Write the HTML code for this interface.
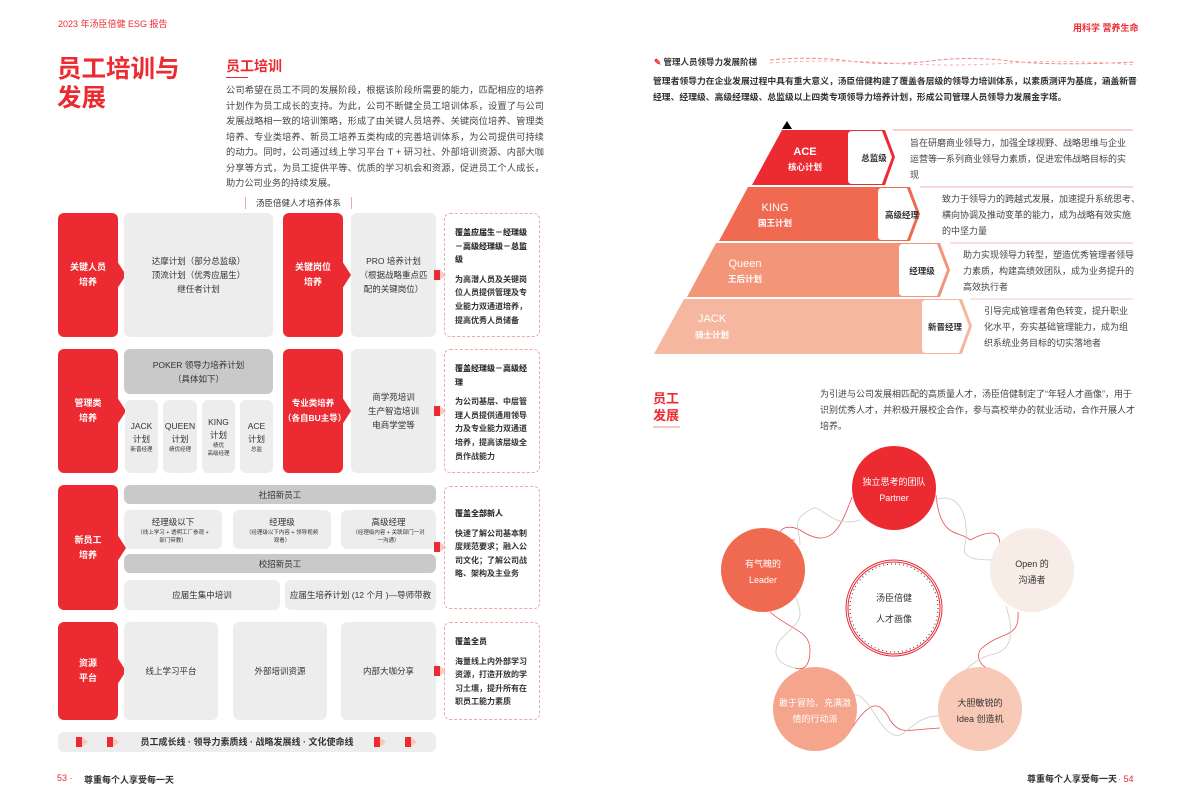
<!DOCTYPE html>
<html><head><meta charset="utf-8">
<style>
*{margin:0;padding:0;box-sizing:border-box}
body{width:1192px;height:809px;background:#fff;position:relative;overflow:hidden;font-family:"Liberation Sans","Noto Sans CJK SC",sans-serif;color:#333}
.a{position:absolute}
.red{position:absolute;background:#ec2a31;border-radius:6px;color:#fff;font-size:9px;font-weight:bold;display:flex;align-items:center;justify-content:center;text-align:center;line-height:15px}
.red:after{content:"";position:absolute;right:-8px;top:50%;margin-top:-14px;border-left:9px solid #ec2a31;border-top:14px solid transparent;border-bottom:14px solid transparent}
.g{position:absolute;background:#ededed;border-radius:6px;font-size:8.5px;display:flex;flex-direction:column;align-items:center;justify-content:center;text-align:center;line-height:14px;color:#333}
.gd{position:absolute;background:#c9c9c9;border-radius:6px;font-size:8.5px;display:flex;flex-direction:column;align-items:center;justify-content:center;text-align:center;line-height:14px;color:#333}
.d{position:absolute;border:1px dashed #f2a6a8;border-radius:6px;font-size:8px;font-weight:bold;line-height:13.6px;color:#333;padding:12px 8px 0 10px}
.d b{display:block;margin-bottom:6px}
.mk{position:absolute;width:6px;height:10px;background:#ec2a31}
.mk:after{content:"";position:absolute;left:6px;top:0;border-left:6px solid #f8c9c0;border-top:5px solid transparent;border-bottom:5px solid transparent}
.s{font-size:5.5px;line-height:8px;display:block}
.t{font-size:9.2px;line-height:15.5px;color:#444}
</style></head><body>
<div class="a" style="left:58px;top:17px;font-size:9px;color:#ec2a31">2023 年汤臣倍健 ESG 报告</div>
<div class="a" style="left:1073px;top:21px;font-size:9px;color:#ec2a31;font-weight:bold">用科学 营养生命</div>
<div class="a" style="left:57px;top:55px;font-size:24.5px;line-height:29px;color:#ec2a31;font-weight:bold">员工培训与<br>发展</div>
<div class="a" style="left:226px;top:56px;font-size:14px;color:#ec2a31;font-weight:bold">员工培训</div>
<div class="a" style="left:226px;top:77px;width:22px;height:1px;background:#ec2a31"></div>
<div class="a t" style="left:226px;top:83px;width:318px;text-align:justify">公司希望在员工不同的发展阶段，根据该阶段所需要的能力，匹配相应的培养计划作为员工成长的支持。为此，公司不断健全员工培训体系，设置了与公司发展战略相一致的培训策略，形成了由关键人员培养、关键岗位培养、管理类培养、专业类培养、新员工培养五类构成的完善培训体系，为公司提供可持续的动力。同时，公司通过线上学习平台 T + 研习社、外部培训资源、内部大咖分享等方式，为员工提供平等、优质的学习机会和资源，促进员工个人成长，助力公司业务的持续发展。</div>
<div class="a" style="left:245px;top:197px;height:12px;border-left:1px solid #f2a6a8;border-right:1px solid #f2a6a8;width:107px;font-size:8.5px;text-align:center;line-height:12px">汤臣倍健人才培养体系</div>

<div class="red" style="left:58px;top:213px;width:60px;height:124px">关键人员<br>培养</div>
<div class="g" style="left:124px;top:213px;width:149px;height:124px">达摩计划（部分总监级）<br>顶流计划（优秀应届生）<br>继任者计划</div>
<div class="red" style="left:283px;top:213px;width:60px;height:124px">关键岗位<br>培养</div>
<div class="g" style="left:351px;top:213px;width:85px;height:124px">PRO 培养计划<br>（根据战略重点匹<br>配的关键岗位）</div>
<div class="mk" style="left:434px;top:270px"></div>
<div class="d" style="left:444px;top:213px;width:96px;height:124px"><b>覆盖应届生－经理级－高级经理级－总监级</b>为高潜人员及关键岗位人员提供管理及专业能力双通道培养，提高优秀人员储备</div>

<div class="red" style="left:58px;top:349px;width:60px;height:124px">管理类<br>培养</div>
<div class="gd" style="left:124px;top:349px;width:149px;height:45px">POKER 领导力培养计划<br>（具体如下）</div>
<div class="g" style="left:125px;top:400px;width:33px;height:73px;line-height:13px">JACK<br>计划<span class="s">新晋经理</span></div>
<div class="g" style="left:163px;top:400px;width:34px;height:73px;line-height:13px">QUEEN<br>计划<span class="s">绩优经理</span></div>
<div class="g" style="left:202px;top:400px;width:33px;height:73px;line-height:13px">KING<br>计划<span class="s">绩优<br>高级经理</span></div>
<div class="g" style="left:240px;top:400px;width:33px;height:73px;line-height:13px">ACE<br>计划<span class="s">总监</span></div>
<div class="red" style="left:283px;top:349px;width:60px;height:124px;font-size:8.5px">专业类培养<br>（各自BU主导）</div>
<div class="g" style="left:351px;top:349px;width:85px;height:124px">商学苑培训<br>生产智造培训<br>电商学堂等</div>
<div class="mk" style="left:434px;top:406px"></div>
<div class="d" style="left:444px;top:349px;width:96px;height:124px"><b>覆盖经理级－高级经理</b>为公司基层、中层管理人员提供通用领导力及专业能力双通道培养，提高该层级全员作战能力</div>

<div class="red" style="left:58px;top:485px;width:60px;height:125px">新员工<br>培养</div>
<div class="gd" style="left:124px;top:485px;width:312px;height:19px">社招新员工</div>
<div class="g" style="left:124px;top:510px;width:98px;height:39px">经理级以下<span class="s">（线上学习 + 透明工厂参观 +<br>部门带教）</span></div>
<div class="g" style="left:233px;top:510px;width:98px;height:39px">经理级<span class="s">（经理级以下内容 + 领导视频<br>观看）</span></div>
<div class="g" style="left:341px;top:510px;width:95px;height:39px">高级经理<span class="s">（经理级内容 + 关联部门一对<br>一沟通）</span></div>
<div class="gd" style="left:124px;top:554px;width:312px;height:19px">校招新员工</div>
<div class="g" style="left:124px;top:580px;width:156px;height:30px">应届生集中培训</div>
<div class="g" style="left:285px;top:580px;width:151px;height:30px">应届生培养计划 (12 个月 )—导师带教</div>
<div class="mk" style="left:434px;top:542px"></div>
<div class="d" style="left:444px;top:486px;width:96px;height:123px;padding-top:20px"><b>覆盖全部新人</b>快速了解公司基本制度规范要求；融入公司文化；了解公司战略、架构及主业务</div>

<div class="red" style="left:58px;top:622px;width:60px;height:98px">资源<br>平台</div>
<div class="g" style="left:124px;top:622px;width:94px;height:98px">线上学习平台</div>
<div class="g" style="left:233px;top:622px;width:94px;height:98px">外部培训资源</div>
<div class="g" style="left:341px;top:622px;width:95px;height:98px">内部大咖分享</div>
<div class="mk" style="left:434px;top:666px"></div>
<div class="d" style="left:444px;top:622px;width:96px;height:98px"><b>覆盖全员</b>海量线上内外部学习资源，打造开放的学习土壤，提升所有在职员工能力素质</div>
<div class="g" style="left:58px;top:732px;width:378px;height:20px;font-weight:bold;font-size:9px">员工成长线 · 领导力素质线 · 战略发展线 · 文化使命线</div>
<div class="mk" style="left:76px;top:737px"></div><div class="mk" style="left:107px;top:737px"></div>
<div class="mk" style="left:374px;top:737px"></div><div class="mk" style="left:405px;top:737px"></div>

<div class="a" style="left:57px;top:773px;font-size:9px;color:#ec2a31">53 ·</div>
<div class="a" style="left:84px;top:773px;font-size:9px;font-weight:bold;color:#333">尊重每个人享受每一天</div>

<div class="a" style="left:654px;top:56px;font-size:8.5px;font-weight:bold;color:#333"><span style="color:#ec2a31">✎</span> 管理人员领导力发展阶梯</div>
<svg class="a" style="left:770px;top:56px" width="365" height="10"><path d="M0 4 Q40 0 80 5 T160 5 T240 5 T365 6" stroke="#f28a8c" stroke-dasharray="4 2" fill="none"/><path d="M0 7 Q60 3 120 7 T240 7 T365 9" stroke="#f5b0b2" stroke-dasharray="3 3" fill="none"/></svg>
<div class="a" style="left:653px;top:73px;width:484px;font-size:8.8px;font-weight:bold;line-height:16px;color:#333">管理者领导力在企业发展过程中具有重大意义，汤臣倍健构建了覆盖各层级的领导力培训体系，以素质测评为基底，涵盖新晋经理、经理级、高级经理级、总监级以上四类专项领导力培养计划，形成公司管理人员领导力发展金字塔。</div>
<svg class="a" style="left:640px;top:115px" width="500" height="245">
<polygon points="787,6 792,14 782,14" transform="translate(-640,0)" fill="#000"/>
<g transform="translate(-640,-115)" font-family="Liberation Sans, Noto Sans CJK SC, sans-serif">
<line x1="893" y1="130" x2="1133" y2="130" stroke="#f5a0a0"/>
<line x1="920" y1="187" x2="1133" y2="187" stroke="#f5b0b0"/>
<line x1="950" y1="243" x2="1133" y2="243" stroke="#f5c0b8"/>
<line x1="970" y1="299" x2="1133" y2="299" stroke="#f5c8c0"/>
<path d="M752 185 L782 130 L885 130 L895 157 L885 185 Z" fill="#ec2a31"/>
<path d="M852 131 H882 L892 157 L882 184 H852 Q848 184 848 180 V135 Q848 131 852 131Z" fill="#fff"/>
<path d="M719 241 L748 187 L910 187 L920 214 L910 241 Z" fill="#ef6a50"/>
<path d="M882 188 H907 L917 214 L907 240 H882 Q878 240 878 236 V192 Q878 188 882 188Z" fill="#fff"/>
<path d="M687 297 L716 243 L940 243 L950 270 L940 297 Z" fill="#f39578"/>
<path d="M903 244 H937 L947 270 L937 296 H903 Q899 296 899 292 V248 Q899 244 903 244Z" fill="#fff"/>
<path d="M654 354 L684 299 L962 299 L972 326 L962 354 Z" fill="#f5b7a0"/>
<path d="M926 300 H959 L969 326 L959 353 H926 Q922 353 922 349 V304 Q922 300 926 300Z" fill="#fff"/>
<g fill="#fff" font-weight="bold" text-anchor="middle">
<text x="805" y="155" font-size="11">ACE</text><text x="805" y="170" font-size="8.5">核心计划</text>
<text x="775" y="211" font-size="11" font-weight="normal">KING</text><text x="775" y="226" font-size="8.5">国王计划</text>
<text x="745" y="267" font-size="11" font-weight="normal">Queen</text><text x="745" y="282" font-size="8.5">王后计划</text>
<text x="712" y="322" font-size="11" font-weight="normal">JACK</text><text x="712" y="338" font-size="8.5">骑士计划</text>
</g>
<g fill="#333" font-weight="bold" font-size="8.5" text-anchor="middle">
<text x="874" y="161">总监级</text><text x="902" y="218">高级经理</text><text x="922" y="274">经理级</text><text x="945" y="330">新晋经理</text>
</g>
<g fill="#444" font-size="9">
<text x="910" y="146">旨在研磨商业领导力，加强全球视野、战略思维与企业</text>
<text x="910" y="162">运营等一系列商业领导力素质，促进宏伟战略目标的实</text>
<text x="910" y="178">现</text>
<text x="942" y="202">致力于领导力的跨越式发展，加速提升系统思考、</text>
<text x="942" y="218">横向协调及推动变革的能力，成为战略有效实施</text>
<text x="942" y="234">的中坚力量</text>
<text x="963" y="258">助力实现领导力转型，塑造优秀管理者领导</text>
<text x="963" y="274">力素质，构建高绩效团队，成为业务提升的</text>
<text x="963" y="290">高效执行者</text>
<text x="984" y="314">引导完成管理者角色转变，提升职业</text>
<text x="984" y="330">化水平，夯实基础管理能力，成为组</text>
<text x="984" y="346">织系统业务目标的切实落地者</text>
</g>
</g></svg>

<div class="a" style="left:653px;top:390px;font-size:13px;line-height:17px;font-weight:bold;color:#ec2a31">员工<br>发展</div>
<div class="a" style="left:653px;top:426px;width:27px;height:2px;background:#f8c9c9"></div>
<div class="a" style="left:820px;top:386px;width:320px;font-size:9px;line-height:16px;color:#444">为引进与公司发展相匹配的高质量人才，汤臣倍健制定了“年轻人才画像”，用于识别优秀人才，并积极开展校企合作，参与高校举办的就业活动，合作开展人才培养。</div>

<svg class="a" style="left:0;top:0" width="1192" height="809" font-family="Liberation Sans, Noto Sans CJK SC, sans-serif">
<g fill="none" stroke-width="0.8">
<path d="M852 497 C840 530 830 550 800 530 C780 520 770 540 795 540" stroke="#e84a50"/>
<path d="M860 520 C830 530 820 500 810 510 C790 520 800 530 800 545" stroke="#ccc"/>
<path d="M936 495 C940 540 960 530 970 540 C990 530 1000 530 1000 545" stroke="#e84a50"/>
<path d="M936 500 C960 490 970 520 965 545 C960 560 980 560 995 560" stroke="#ccc"/>
<path d="M1018 612 C1020 640 1000 630 980 650 C975 660 985 670 990 668" stroke="#e84a50"/>
<path d="M1006 606 C1010 620 1020 650 990 655 C975 660 965 670 965 672" stroke="#ccc"/>
<path d="M852 728 C870 700 880 700 890 720 C900 735 905 730 940 728" stroke="#e84a50"/>
<path d="M852 695 C870 690 880 740 900 735 C910 730 920 715 940 716" stroke="#ccc"/>
<path d="M770 612 C790 630 810 630 810 650 C810 670 800 670 795 668" stroke="#e84a50"/>
<path d="M795 595 C805 620 800 620 780 640 C770 655 780 665 795 668" stroke="#ccc"/>
</g>
<circle cx="894" cy="488" r="42" fill="#ec2a31"/>
<circle cx="1032" cy="570" r="42" fill="#f7ece6"/>
<circle cx="763" cy="570" r="42" fill="#ef6a50"/>
<circle cx="980" cy="709" r="42" fill="#f7c9b6"/>
<circle cx="815" cy="709" r="42" fill="#f5a58b"/>
<circle cx="894" cy="608" r="48" fill="#fff" stroke="#ec2a31" stroke-width="1"/>
<circle cx="894" cy="608" r="46" fill="none" stroke="#ec2a31" stroke-width="1"/>
<circle cx="894" cy="608" r="44" fill="none" stroke="#333" stroke-width="1" stroke-dasharray="1 3"/>
<g font-size="9" text-anchor="middle">
<text x="894" y="485" fill="#fff">独立思考的团队</text><text x="894" y="501" fill="#fff">Partner</text>
<text x="1032" y="567" fill="#333">Open 的</text><text x="1032" y="583" fill="#333">沟通者</text>
<text x="763" y="567" fill="#fff">有气魄的</text><text x="763" y="583" fill="#fff">Leader</text>
<text x="980" y="706" fill="#333">大胆敏锐的</text><text x="980" y="722" fill="#333">Idea 创造机</text>
<text x="815" y="706" fill="#fff">敢于冒险、充满激</text><text x="815" y="722" fill="#fff">情的行动派</text>
<text x="894" y="601" fill="#333">汤臣倍健</text><text x="894" y="622" fill="#333">人才画像</text>
</g>
<text x="1027" y="782" font-size="9" font-weight="bold" fill="#333">尊重每个人享受每一天</text>
<text x="1118" y="782" font-size="9" fill="#ec2a31">· 54</text>
</svg>
</body></html>
